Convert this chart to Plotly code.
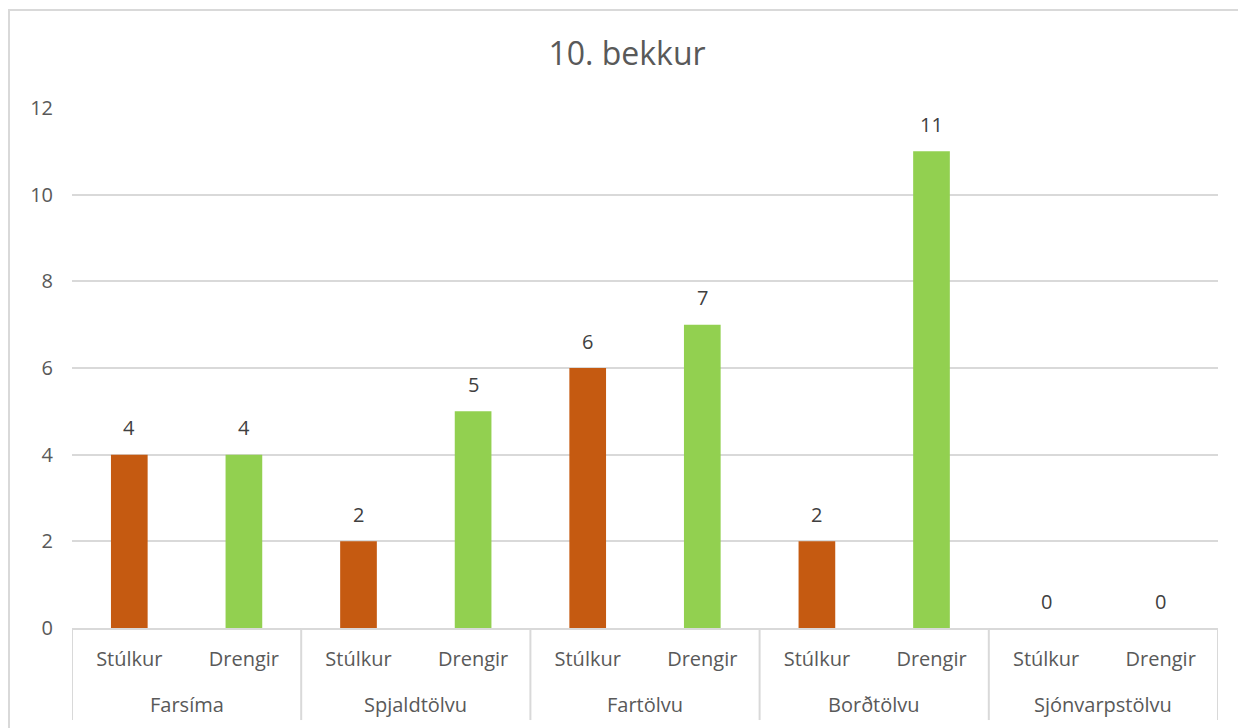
import plotly.graph_objects as go

devices = ["Farsíma", "Spjaldtölvu", "Fartölvu", "Borðtölvu", "Sjónvarpstölvu"]
genders = ["Stúlkur", "Drengir"]
stulkur = [4, 2, 6, 2, 0]
drengir = [4, 5, 7, 11, 0]

# each device group holds two slots: Stúlkur then Drengir
pos_st = [2 * i for i in range(len(devices))]
pos_dr = [2 * i + 1 for i in range(len(devices))]
tick_pos = [p for i in range(len(devices)) for p in (2 * i, 2 * i + 1)]
tick_txt = genders * len(devices)

fnt = "Open Sans"
grey = "#D9D9D9"

fig = go.Figure()
fig.add_trace(go.Bar(x=pos_st, y=stulkur, name="Stúlkur", marker_color="#C55A11",
                     marker_line_width=0, width=0.32))
fig.add_trace(go.Bar(x=pos_dr, y=drengir, name="Drengir", marker_color="#92D050",
                     marker_line_width=0, width=0.32))

# value labels above the bars
for xs, ys in ((pos_st, stulkur), (pos_dr, drengir)):
    for xv, yv in zip(xs, ys):
        fig.add_annotation(x=xv, y=yv, text=str(yv), showarrow=False, yshift=27,
                           yanchor="middle", font=dict(size=20, color="#404040", family=fnt))

# outer category labels and dividers
for i, d in enumerate(devices):
    fig.add_annotation(x=2 * i + 0.5, y=-0.148, yref="paper", text=d, showarrow=False,
                       yanchor="middle", font=dict(size=20, color="#595959", family=fnt))
for i in range(len(devices) + 1):
    fig.add_shape(type="line", x0=2 * i - 0.5, x1=2 * i - 0.5, y0=0, y1=-0.177,
                  xref="x", yref="paper", line=dict(color=grey, width=2))

# chart frame
fig.add_shape(type="rect", xref="paper", yref="paper",
              x0=(1 - 64) / 1146, x1=(1237 - 64) / 1146,
              y0=-0.4, y1=(620 - 2) / 520,
              line=dict(color=grey, width=2), layer="below")

fig.update_layout(
    width=1238, height=720,
    barmode="overlay",
    showlegend=False,
    plot_bgcolor="white", paper_bgcolor="white",
    margin=dict(l=64, r=28, t=100, b=100),
    font=dict(family=fnt, color="#595959", size=20),
    title=dict(text="10. bekkur", x=0.5, xanchor="center", y=(720 - 46) / 720, yanchor="middle",
               font=dict(size=32, color="#595959", family=fnt)),
    xaxis=dict(range=[-0.5, 2 * len(devices) - 0.5], tickvals=tick_pos, ticktext=tick_txt,
               showgrid=False, zeroline=False, showline=True, linecolor=grey, linewidth=2,
               ticks="", ticklabelstandoff=12, tickfont=dict(size=20, color="#595959")),
    yaxis=dict(range=[0, 12], dtick=2, showgrid=True, gridcolor=grey, gridwidth=1.5,
               zeroline=False, showline=False, ticks="", ticklabelstandoff=18,
               tickfont=dict(size=20, color="#595959")),
)

fig.write_html("out.html")
